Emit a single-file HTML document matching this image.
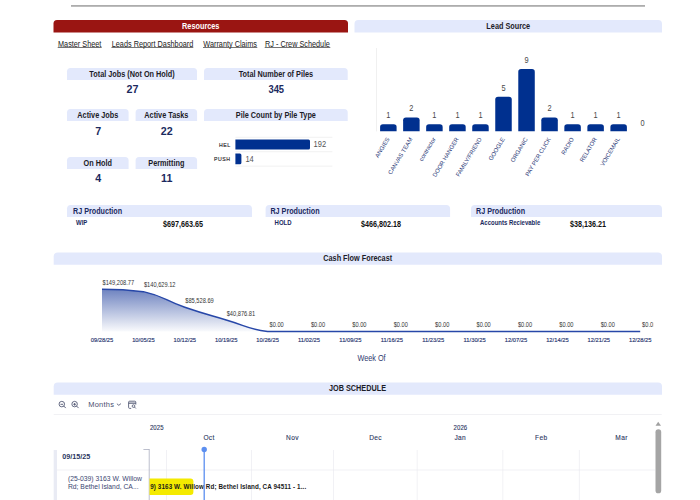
<!DOCTYPE html>
<html><head><meta charset="utf-8"><style>html,body{margin:0;padding:0;background:#fff;width:700px;height:500px;overflow:hidden}svg{display:block}</style></head>
<body><svg width="700" height="500" viewBox="0 0 700 500" font-family='"Liberation Sans", sans-serif'><rect x="71" y="5" width="574" height="1.8" fill="#adadad"/>
<path d="M53.5,32.5 L53.5,23.5 Q53.5,20 57.0,20 L344.5,20 Q348.0,20 348.0,23.5 L348.0,32.5 Z" fill="#9a1512"/>
<text transform="translate(200.75,28.6) scale(0.8547,1)" font-size="8.541" fill="#ffffff" font-weight="bold" text-anchor="middle" >Resources</text>
<path d="M354.5,32.5 L354.5,23.8 Q354.5,20 358.3,20 L658.2,20 Q662.0,20 662.0,23.8 L662.0,32.5 Z" fill="#e3e9fc"/>
<text transform="translate(508.25,28.6) scale(0.8547,1)" font-size="8.541" fill="#1c1c28" font-weight="bold" text-anchor="middle" >Lead Source</text>
<text transform="translate(58,46.5) scale(0.8547,1)" font-size="8.541" fill="#222" font-weight="normal" text-anchor="start" >Master Sheet</text>
<rect x="57.7" y="47.05" width="44.00" height="0.7" fill="#3a3a3a"/>
<text transform="translate(111.75,46.5) scale(0.8547,1)" font-size="8.541" fill="#222" font-weight="normal" text-anchor="start" >Leads Report Dashboard</text>
<rect x="111.45" y="47.05" width="81.85" height="0.7" fill="#3a3a3a"/>
<text transform="translate(203.3,46.5) scale(0.8547,1)" font-size="8.541" fill="#222" font-weight="normal" text-anchor="start" >Warranty Claims</text>
<rect x="203.0" y="47.05" width="54.30" height="0.7" fill="#3a3a3a"/>
<text transform="translate(265,46.5) scale(0.8547,1)" font-size="8.541" fill="#222" font-weight="normal" text-anchor="start" >RJ - Crew Schedule</text>
<rect x="264.7" y="47.05" width="65.60" height="0.7" fill="#3a3a3a"/>
<path d="M67,80 L67,71.5 Q67,68 70.5,68 L193.5,68 Q197,68 197,71.5 L197,80 Z" fill="#e3e9fc"/>
<text transform="translate(132.0,76.6) scale(0.8547,1)" font-size="8.541" fill="#1c1c28" font-weight="bold" text-anchor="middle" >Total Jobs (Not On Hold)</text>
<text transform="translate(132.4,93.2) scale(0.9091,1)" font-size="11.770" fill="#1b2a5e" font-weight="bold" text-anchor="middle" >27</text>
<path d="M204,80 L204,71.5 Q204,68 207.5,68 L344.2,68 Q347.7,68 347.7,71.5 L347.7,80 Z" fill="#e3e9fc"/>
<text transform="translate(275.85,76.6) scale(0.8547,1)" font-size="8.541" fill="#1c1c28" font-weight="bold" text-anchor="middle" >Total Number of Piles</text>
<text transform="translate(276.25,92.55) scale(0.9091,1)" font-size="10.340" fill="#1b2a5e" font-weight="bold" text-anchor="middle" >345</text>
<path d="M67,121 L67,112.5 Q67,109 70.5,109 L125.1,109 Q128.6,109 128.6,112.5 L128.6,121 Z" fill="#e3e9fc"/>
<text transform="translate(97.8,117.6) scale(0.8547,1)" font-size="8.541" fill="#1c1c28" font-weight="bold" text-anchor="middle" >Active Jobs</text>
<text transform="translate(98.2,134.8) scale(0.9091,1)" font-size="11.770" fill="#1b2a5e" font-weight="bold" text-anchor="middle" >7</text>
<path d="M135.6,121 L135.6,112.5 Q135.6,109 139.1,109 L193.6,109 Q197.1,109 197.1,112.5 L197.1,121 Z" fill="#e3e9fc"/>
<text transform="translate(166.35,117.6) scale(0.8547,1)" font-size="8.541" fill="#1c1c28" font-weight="bold" text-anchor="middle" >Active Tasks</text>
<text transform="translate(166.75,134.8) scale(0.9091,1)" font-size="11.770" fill="#1b2a5e" font-weight="bold" text-anchor="middle" >22</text>
<path d="M67,169 L67,160.5 Q67,157 70.5,157 L125.1,157 Q128.6,157 128.6,160.5 L128.6,169 Z" fill="#e3e9fc"/>
<text transform="translate(97.8,165.6) scale(0.8547,1)" font-size="8.541" fill="#1c1c28" font-weight="bold" text-anchor="middle" >On Hold</text>
<text transform="translate(98.2,182.2) scale(0.9091,1)" font-size="11.770" fill="#1b2a5e" font-weight="bold" text-anchor="middle" >4</text>
<path d="M135.6,169 L135.6,160.5 Q135.6,157 139.1,157 L193.6,157 Q197.1,157 197.1,160.5 L197.1,169 Z" fill="#e3e9fc"/>
<text transform="translate(166.35,165.6) scale(0.8547,1)" font-size="8.541" fill="#1c1c28" font-weight="bold" text-anchor="middle" >Permitting</text>
<text transform="translate(166.75,182.2) scale(0.9091,1)" font-size="11.770" fill="#1b2a5e" font-weight="bold" text-anchor="middle" >11</text>
<path d="M204,121 L204,112.5 Q204,109 207.5,109 L344.2,109 Q347.7,109 347.7,112.5 L347.7,121 Z" fill="#e3e9fc"/>
<text transform="translate(275.85,117.6) scale(0.8547,1)" font-size="8.541" fill="#1c1c28" font-weight="bold" text-anchor="middle" >Pile Count by Pile Type</text>
<rect x="235.4" y="136.85" width="97" height="0.7" fill="#ececec"/>
<rect x="235.4" y="151.45000000000002" width="97" height="0.7" fill="#ececec"/>
<rect x="235.4" y="165.75" width="97" height="0.7" fill="#ececec"/>
<path d="M235.4,139.4 L308.5,139.4 Q310.0,139.4 310.0,140.9 L310.0,148.1 Q310.0,149.6 308.5,149.6 L235.4,149.6 Z" fill="#00308f"/>
<path d="M235.4,153.5 L239.9,153.5 Q241.4,153.5 241.4,155.0 L241.4,162.7 Q241.4,164.2 239.9,164.2 L235.4,164.2 Z" fill="#00308f"/>
<text transform="translate(230.6,146.6) scale(0.9524,1)" font-size="5.460" fill="#3a3a3a" font-weight="normal" text-anchor="end" letter-spacing="0.55" stroke="#3a3a3a" stroke-width="0.2">HEL</text>
<text transform="translate(230.6,161.1) scale(0.9524,1)" font-size="5.460" fill="#3a3a3a" font-weight="normal" text-anchor="end" letter-spacing="0.55" stroke="#3a3a3a" stroke-width="0.2">PUSH</text>
<text transform="translate(313.6,147) scale(0.8547,1)" font-size="8.775" fill="#555" font-weight="normal" text-anchor="start" >192</text>
<text transform="translate(245.4,161.5) scale(0.8547,1)" font-size="8.775" fill="#555" font-weight="normal" text-anchor="start" >14</text>
<rect x="376.2" y="48" width="0.6" height="83.4" fill="#e6e6e6"/>
<path d="M380.1,131.2 L380.1,127.09999999999998 Q380.1,124.29999999999998 382.90000000000003,124.29999999999998 L393.8,124.29999999999998 Q396.6,124.29999999999998 396.6,127.09999999999998 L396.6,131.2 Z" fill="#00308f"/>
<text transform="translate(388.35,118.3) scale(0.8929,1)" font-size="8.288" fill="#484848" font-weight="normal" text-anchor="middle" >1</text>
<text x="0" y="0" font-size="5.95" fill="#2b3a78" text-anchor="end" transform="translate(388.15,138) rotate(-59) translate(0,2)">ANGIES</text>
<path d="M403.13,131.2 L403.13,120.19999999999999 Q403.13,117.39999999999999 405.93,117.39999999999999 L416.83,117.39999999999999 Q419.63,117.39999999999999 419.63,120.19999999999999 L419.63,131.2 Z" fill="#00308f"/>
<text transform="translate(411.38,111.4) scale(0.8929,1)" font-size="8.288" fill="#484848" font-weight="normal" text-anchor="middle" >2</text>
<text x="0" y="0" font-size="5.95" fill="#2b3a78" text-anchor="end" transform="translate(411.18,138) rotate(-59) translate(0,2)">CANVAS TEAM</text>
<path d="M426.16,131.2 L426.16,127.09999999999998 Q426.16,124.29999999999998 428.96000000000004,124.29999999999998 L439.86,124.29999999999998 Q442.66,124.29999999999998 442.66,127.09999999999998 L442.66,131.2 Z" fill="#00308f"/>
<text transform="translate(434.41,118.3) scale(0.8929,1)" font-size="8.288" fill="#484848" font-weight="normal" text-anchor="middle" >1</text>
<text x="0" y="0" font-size="5.95" fill="#2b3a78" text-anchor="end" transform="translate(434.21,138) rotate(-59) translate(0,2)">contractor</text>
<path d="M449.19000000000005,131.2 L449.19000000000005,127.09999999999998 Q449.19000000000005,124.29999999999998 451.99000000000007,124.29999999999998 L462.89000000000004,124.29999999999998 Q465.69000000000005,124.29999999999998 465.69000000000005,127.09999999999998 L465.69000000000005,131.2 Z" fill="#00308f"/>
<text transform="translate(457.44,118.3) scale(0.8929,1)" font-size="8.288" fill="#484848" font-weight="normal" text-anchor="middle" >1</text>
<text x="0" y="0" font-size="5.95" fill="#2b3a78" text-anchor="end" transform="translate(457.24,138) rotate(-59) translate(0,2)">DOOR HANGER</text>
<path d="M472.22,131.2 L472.22,127.09999999999998 Q472.22,124.29999999999998 475.02000000000004,124.29999999999998 L485.92,124.29999999999998 Q488.72,124.29999999999998 488.72,127.09999999999998 L488.72,131.2 Z" fill="#00308f"/>
<text transform="translate(480.47,118.3) scale(0.8929,1)" font-size="8.288" fill="#484848" font-weight="normal" text-anchor="middle" >1</text>
<text x="0" y="0" font-size="5.95" fill="#2b3a78" text-anchor="end" transform="translate(480.27,138) rotate(-59) translate(0,2)">FAMILY/FRIEND</text>
<path d="M495.25,131.2 L495.25,99.49999999999999 Q495.25,96.69999999999999 498.05,96.69999999999999 L508.95,96.69999999999999 Q511.75,96.69999999999999 511.75,99.49999999999999 L511.75,131.2 Z" fill="#00308f"/>
<text transform="translate(503.5,90.7) scale(0.8929,1)" font-size="8.288" fill="#484848" font-weight="normal" text-anchor="middle" >5</text>
<text x="0" y="0" font-size="5.95" fill="#2b3a78" text-anchor="end" transform="translate(503.30,138) rotate(-59) translate(0,2)">GOOGLE</text>
<path d="M518.28,131.2 L518.28,71.89999999999999 Q518.28,69.1 521.0799999999999,69.1 L531.98,69.1 Q534.78,69.1 534.78,71.89999999999999 L534.78,131.2 Z" fill="#00308f"/>
<text transform="translate(526.53,63.1) scale(0.8929,1)" font-size="8.288" fill="#484848" font-weight="normal" text-anchor="middle" >9</text>
<text x="0" y="0" font-size="5.95" fill="#2b3a78" text-anchor="end" transform="translate(526.33,138) rotate(-59) translate(0,2)">ORGANIC</text>
<path d="M541.3100000000001,131.2 L541.3100000000001,120.19999999999999 Q541.3100000000001,117.39999999999999 544.11,117.39999999999999 L555.0100000000001,117.39999999999999 Q557.8100000000001,117.39999999999999 557.8100000000001,120.19999999999999 L557.8100000000001,131.2 Z" fill="#00308f"/>
<text transform="translate(549.56,111.4) scale(0.8929,1)" font-size="8.288" fill="#484848" font-weight="normal" text-anchor="middle" >2</text>
<text x="0" y="0" font-size="5.95" fill="#2b3a78" text-anchor="end" transform="translate(549.36,138) rotate(-59) translate(0,2)">PAY PER CLICK</text>
<path d="M564.34,131.2 L564.34,127.09999999999998 Q564.34,124.29999999999998 567.14,124.29999999999998 L578.0400000000001,124.29999999999998 Q580.84,124.29999999999998 580.84,127.09999999999998 L580.84,131.2 Z" fill="#00308f"/>
<text transform="translate(572.59,118.3) scale(0.8929,1)" font-size="8.288" fill="#484848" font-weight="normal" text-anchor="middle" >1</text>
<text x="0" y="0" font-size="5.95" fill="#2b3a78" text-anchor="end" transform="translate(572.39,138) rotate(-59) translate(0,2)">RADIO</text>
<path d="M587.37,131.2 L587.37,127.09999999999998 Q587.37,124.29999999999998 590.17,124.29999999999998 L601.07,124.29999999999998 Q603.87,124.29999999999998 603.87,127.09999999999998 L603.87,131.2 Z" fill="#00308f"/>
<text transform="translate(595.62,118.3) scale(0.8929,1)" font-size="8.288" fill="#484848" font-weight="normal" text-anchor="middle" >1</text>
<text x="0" y="0" font-size="5.95" fill="#2b3a78" text-anchor="end" transform="translate(595.42,138) rotate(-59) translate(0,2)">RELATOR</text>
<path d="M610.4000000000001,131.2 L610.4000000000001,127.09999999999998 Q610.4000000000001,124.29999999999998 613.2,124.29999999999998 L624.1000000000001,124.29999999999998 Q626.9000000000001,124.29999999999998 626.9000000000001,127.09999999999998 L626.9000000000001,131.2 Z" fill="#00308f"/>
<text transform="translate(618.65,118.3) scale(0.8929,1)" font-size="8.288" fill="#484848" font-weight="normal" text-anchor="middle" >1</text>
<text x="0" y="0" font-size="5.95" fill="#2b3a78" text-anchor="end" transform="translate(618.45,138) rotate(-59) translate(0,2)">VOICEMAIL</text>
<text transform="translate(642.68,125.8) scale(0.8929,1)" font-size="8.288" fill="#484848" font-weight="normal" text-anchor="middle" >0</text>
<path d="M67,217 L67,208.8 Q67,205 70.8,205 L248.2,205 Q252,205 252,208.8 L252,217 Z" fill="#e3e9fc"/>
<text transform="translate(73,213.6) scale(0.8547,1)" font-size="8.424" fill="#1b2a5e" font-weight="bold" text-anchor="start" >RJ Production</text>
<text transform="translate(76,225.3) scale(0.8547,1)" font-size="7.020" fill="#1b2a5e" font-weight="bold" text-anchor="start" >WIP</text>
<text transform="translate(163,226.5) scale(0.8547,1)" font-size="8.424" fill="#111" font-weight="bold" text-anchor="start" >$697,663.65</text>
<path d="M265.6,217 L265.6,208.8 Q265.6,205 269.40000000000003,205 L446.3,205 Q450.1,205 450.1,208.8 L450.1,217 Z" fill="#e3e9fc"/>
<text transform="translate(270.4,213.6) scale(0.8547,1)" font-size="8.424" fill="#1b2a5e" font-weight="bold" text-anchor="start" >RJ Production</text>
<text transform="translate(274.6,225.3) scale(0.8547,1)" font-size="7.020" fill="#1b2a5e" font-weight="bold" text-anchor="start" >HOLD</text>
<text transform="translate(361,226.5) scale(0.8547,1)" font-size="8.424" fill="#111" font-weight="bold" text-anchor="start" >$466,802.18</text>
<path d="M471,217 L471,208.8 Q471,205 474.8,205 L658.2,205 Q662,205 662,208.8 L662,217 Z" fill="#e3e9fc"/>
<text transform="translate(476,213.6) scale(0.8547,1)" font-size="8.424" fill="#1b2a5e" font-weight="bold" text-anchor="start" >RJ Production</text>
<text transform="translate(480,225.3) scale(0.8547,1)" font-size="7.020" fill="#1b2a5e" font-weight="bold" text-anchor="start" >Accounts Recievable</text>
<text transform="translate(570,226.5) scale(0.8547,1)" font-size="8.424" fill="#111" font-weight="bold" text-anchor="start" >$38,136.21</text>
<path d="M53.7,264.8 L53.7,256.5 Q53.7,252.5 57.7,252.5 L658.0,252.5 Q662.0,252.5 662.0,256.5 L662.0,264.8 Z" fill="#e3e9fc"/>
<text transform="translate(357.7,261) scale(0.8547,1)" font-size="8.541" fill="#1c1c28" font-weight="bold" text-anchor="middle" >Cash Flow Forecast</text>
<defs><linearGradient id="ag" x1="0" y1="0" x2="0" y2="1"><stop offset="0" stop-color="#4a64b0" stop-opacity="0.8"/><stop offset="1" stop-color="#4a64b0" stop-opacity="0.03"/></linearGradient><clipPath id="clipc"><rect x="0" y="0" width="653.3" height="500"/></clipPath></defs>
<path d="M102.00,289.20 C102.00,289.20 123.37,289.20 143.40,291.64 C164.77,296.31 163.87,300.13 184.80,307.30 C205.27,314.30 205.43,313.89 226.20,319.98 C246.83,326.04 246.51,328.64 267.60,331.60 C287.91,331.60 288.30,331.60 309.00,331.60 C329.70,331.60 329.70,331.60 350.40,331.60 C371.10,331.60 371.10,331.60 391.80,331.60 C412.50,331.60 412.50,331.60 433.20,331.60 C453.90,331.60 453.90,331.60 474.60,331.60 C495.30,331.60 495.30,331.60 516.00,331.60 C536.70,331.60 536.70,331.60 557.40,331.60 C578.10,331.60 578.10,331.60 598.80,331.60 C619.50,331.60 640.20,331.60 640.20,331.60 L640.20,331.6 L102.00,331.6 Z" fill="url(#ag)"/>
<path d="M102.00,289.20 C102.00,289.20 123.37,289.20 143.40,291.64 C164.77,296.31 163.87,300.13 184.80,307.30 C205.27,314.30 205.43,313.89 226.20,319.98 C246.83,326.04 246.51,328.64 267.60,331.60 C287.91,331.60 288.30,331.60 309.00,331.60 C329.70,331.60 329.70,331.60 350.40,331.60 C371.10,331.60 371.10,331.60 391.80,331.60 C412.50,331.60 412.50,331.60 433.20,331.60 C453.90,331.60 453.90,331.60 474.60,331.60 C495.30,331.60 495.30,331.60 516.00,331.60 C536.70,331.60 536.70,331.60 557.40,331.60 C578.10,331.60 578.10,331.60 598.80,331.60 C619.50,331.60 640.20,331.60 640.20,331.60" fill="none" stroke="#2747a8" stroke-width="1.5"/>
<g clip-path="url(#clipc)">
<text transform="translate(102.5,284.8) scale(0.8547,1)" font-size="6.669" fill="#333" font-weight="normal" text-anchor="start" >$149,208.77</text>
<text transform="translate(143.9,287.24) scale(0.8547,1)" font-size="6.669" fill="#333" font-weight="normal" text-anchor="start" >$140,629.12</text>
<text transform="translate(185.3,302.9) scale(0.8547,1)" font-size="6.669" fill="#333" font-weight="normal" text-anchor="start" >$85,528.69</text>
<text transform="translate(226.7,315.58) scale(0.8547,1)" font-size="6.669" fill="#333" font-weight="normal" text-anchor="start" >$40,876.81</text>
<text transform="translate(269.5,327.2) scale(0.8547,1)" font-size="6.669" fill="#333" font-weight="normal" text-anchor="start" >$0.00</text>
<text transform="translate(310.9,327.2) scale(0.8547,1)" font-size="6.669" fill="#333" font-weight="normal" text-anchor="start" >$0.00</text>
<text transform="translate(352.3,327.2) scale(0.8547,1)" font-size="6.669" fill="#333" font-weight="normal" text-anchor="start" >$0.00</text>
<text transform="translate(393.7,327.2) scale(0.8547,1)" font-size="6.669" fill="#333" font-weight="normal" text-anchor="start" >$0.00</text>
<text transform="translate(435.1,327.2) scale(0.8547,1)" font-size="6.669" fill="#333" font-weight="normal" text-anchor="start" >$0.00</text>
<text transform="translate(476.5,327.2) scale(0.8547,1)" font-size="6.669" fill="#333" font-weight="normal" text-anchor="start" >$0.00</text>
<text transform="translate(517.9,327.2) scale(0.8547,1)" font-size="6.669" fill="#333" font-weight="normal" text-anchor="start" >$0.00</text>
<text transform="translate(559.3,327.2) scale(0.8547,1)" font-size="6.669" fill="#333" font-weight="normal" text-anchor="start" >$0.00</text>
<text transform="translate(600.7,327.2) scale(0.8547,1)" font-size="6.669" fill="#333" font-weight="normal" text-anchor="start" >$0.00</text>
<text transform="translate(642.1,327.2) scale(0.8547,1)" font-size="6.669" fill="#333" font-weight="normal" text-anchor="start" >$0.00</text>
</g>
<text transform="translate(102.0,342.2) scale(0.9346,1)" font-size="6.206" fill="#26336e" font-weight="normal" text-anchor="middle" stroke="#26336e" stroke-width="0.15">09/28/25</text>
<text transform="translate(143.4,342.2) scale(0.9346,1)" font-size="6.206" fill="#26336e" font-weight="normal" text-anchor="middle" stroke="#26336e" stroke-width="0.15">10/05/25</text>
<text transform="translate(184.8,342.2) scale(0.9346,1)" font-size="6.206" fill="#26336e" font-weight="normal" text-anchor="middle" stroke="#26336e" stroke-width="0.15">10/12/25</text>
<text transform="translate(226.2,342.2) scale(0.9346,1)" font-size="6.206" fill="#26336e" font-weight="normal" text-anchor="middle" stroke="#26336e" stroke-width="0.15">10/19/25</text>
<text transform="translate(267.6,342.2) scale(0.9346,1)" font-size="6.206" fill="#26336e" font-weight="normal" text-anchor="middle" stroke="#26336e" stroke-width="0.15">10/26/25</text>
<text transform="translate(309.0,342.2) scale(0.9346,1)" font-size="6.206" fill="#26336e" font-weight="normal" text-anchor="middle" stroke="#26336e" stroke-width="0.15">11/02/25</text>
<text transform="translate(350.4,342.2) scale(0.9346,1)" font-size="6.206" fill="#26336e" font-weight="normal" text-anchor="middle" stroke="#26336e" stroke-width="0.15">11/09/25</text>
<text transform="translate(391.8,342.2) scale(0.9346,1)" font-size="6.206" fill="#26336e" font-weight="normal" text-anchor="middle" stroke="#26336e" stroke-width="0.15">11/16/25</text>
<text transform="translate(433.2,342.2) scale(0.9346,1)" font-size="6.206" fill="#26336e" font-weight="normal" text-anchor="middle" stroke="#26336e" stroke-width="0.15">11/23/25</text>
<text transform="translate(474.6,342.2) scale(0.9346,1)" font-size="6.206" fill="#26336e" font-weight="normal" text-anchor="middle" stroke="#26336e" stroke-width="0.15">11/30/25</text>
<text transform="translate(516.0,342.2) scale(0.9346,1)" font-size="6.206" fill="#26336e" font-weight="normal" text-anchor="middle" stroke="#26336e" stroke-width="0.15">12/07/25</text>
<text transform="translate(557.4,342.2) scale(0.9346,1)" font-size="6.206" fill="#26336e" font-weight="normal" text-anchor="middle" stroke="#26336e" stroke-width="0.15">12/14/25</text>
<text transform="translate(598.8,342.2) scale(0.9346,1)" font-size="6.206" fill="#26336e" font-weight="normal" text-anchor="middle" stroke="#26336e" stroke-width="0.15">12/21/25</text>
<text transform="translate(640.2,342.2) scale(0.9346,1)" font-size="6.206" fill="#26336e" font-weight="normal" text-anchor="middle" stroke="#26336e" stroke-width="0.15">12/28/25</text>
<text transform="translate(371.5,360.6) scale(0.8547,1)" font-size="8.541" fill="#2f3b70" font-weight="normal" text-anchor="middle" >Week Of</text>
<path d="M53.7,394.8 L53.7,386.5 Q53.7,382.5 57.7,382.5 L658.0,382.5 Q662.0,382.5 662.0,386.5 L662.0,394.8 Z" fill="#e3e9fc"/>
<text transform="translate(357.5,391.1) scale(0.8547,1)" font-size="8.541" fill="#1c1c28" font-weight="bold" text-anchor="middle" >JOB SCHEDULE</text>
<circle cx="61.8" cy="404.1" r="2.75" fill="none" stroke="#4e5470" stroke-width="0.85"/>
<line x1="63.8" y1="406.1" x2="65.5" y2="407.8" stroke="#4e5470" stroke-width="0.9" stroke-linecap="round"/>
<line x1="60.5" y1="404.3" x2="63.099999999999994" y2="404.3" stroke="#4e5470" stroke-width="0.9"/>
<circle cx="74.6" cy="404.1" r="2.75" fill="none" stroke="#4e5470" stroke-width="0.85"/>
<line x1="76.6" y1="406.1" x2="78.3" y2="407.8" stroke="#4e5470" stroke-width="0.9" stroke-linecap="round"/>
<line x1="73.3" y1="404.3" x2="75.89999999999999" y2="404.3" stroke="#4e5470" stroke-width="0.9"/>
<line x1="74.6" y1="403.0" x2="74.6" y2="405.6" stroke="#4e5470" stroke-width="0.9"/>
<text transform="translate(88.2,406.8) scale(0.9524,1)" font-size="7.875" fill="#4a5070" font-weight="normal" text-anchor="start" letter-spacing="0.25">Months</text>
<path d="M117.2,404.0 L118.8,405.3 L120.6,403.9" fill="none" stroke="#4e5470" stroke-width="0.85" stroke-linecap="round" stroke-linejoin="round"/>
<path d="M131.2,408.4 L129.6,408.4 Q128.6,408.4 128.6,407.4 L128.6,402.2 Q128.6,401.2 129.6,401.2 L134.8,401.2 Q135.8,401.2 135.8,402.2 L135.8,404.6" fill="none" stroke="#4e5470" stroke-width="0.85"/>
<rect x="128.6" y="402.6" width="7.2" height="1.1" fill="#4e5470"/>
<circle cx="133.5" cy="406.1" r="1.35" fill="none" stroke="#4e5470" stroke-width="0.8"/>
<line x1="134.5" y1="407.1" x2="135.6" y2="408.2" stroke="#4e5470" stroke-width="0.8" stroke-linecap="round"/>
<rect x="53.7" y="414" width="608" height="0.7" fill="#ebebf0"/>
<text transform="translate(156.8,430.2) scale(0.9524,1)" font-size="6.300" fill="#2a3560" font-weight="normal" text-anchor="middle" letter-spacing="0.1" stroke="#2a3560" stroke-width="0.1">2025</text>
<text transform="translate(460.4,430.2) scale(0.9524,1)" font-size="6.300" fill="#2a3560" font-weight="normal" text-anchor="middle" letter-spacing="0.1" stroke="#2a3560" stroke-width="0.1">2026</text>
<text transform="translate(209,440.3) scale(0.9524,1)" font-size="6.930" fill="#2a3560" font-weight="normal" text-anchor="middle" letter-spacing="0.35" stroke="#2a3560" stroke-width="0.1">Oct</text>
<text transform="translate(292.4,440.3) scale(0.9524,1)" font-size="6.930" fill="#2a3560" font-weight="normal" text-anchor="middle" letter-spacing="0.35" stroke="#2a3560" stroke-width="0.1">Nov</text>
<text transform="translate(375.5,440.3) scale(0.9524,1)" font-size="6.930" fill="#2a3560" font-weight="normal" text-anchor="middle" letter-spacing="0.35" stroke="#2a3560" stroke-width="0.1">Dec</text>
<text transform="translate(460.2,440.3) scale(0.9524,1)" font-size="6.930" fill="#2a3560" font-weight="normal" text-anchor="middle" letter-spacing="0.35" stroke="#2a3560" stroke-width="0.1">Jan</text>
<text transform="translate(541.2,440.3) scale(0.9524,1)" font-size="6.930" fill="#2a3560" font-weight="normal" text-anchor="middle" letter-spacing="0.35" stroke="#2a3560" stroke-width="0.1">Feb</text>
<text transform="translate(621.5,440.3) scale(0.9524,1)" font-size="6.930" fill="#2a3560" font-weight="normal" text-anchor="middle" letter-spacing="0.35" stroke="#2a3560" stroke-width="0.1">Mar</text>
<rect x="166.29999999999998" y="450" width="0.6" height="50" fill="#e8e8ee"/>
<rect x="251.1" y="450" width="0.6" height="50" fill="#e8e8ee"/>
<rect x="333.09999999999997" y="450" width="0.6" height="50" fill="#e8e8ee"/>
<rect x="416.8" y="450" width="0.6" height="50" fill="#e8e8ee"/>
<rect x="502.59999999999997" y="450" width="0.6" height="50" fill="#e8e8ee"/>
<rect x="578.9000000000001" y="450" width="0.6" height="50" fill="#e8e8ee"/>
<rect x="57" y="469.7" width="598" height="0.6" fill="#e8e8ee"/>
<rect x="53.7" y="450" width="3.3" height="50" fill="#e9ebf4"/>
<rect x="148.8" y="449" width="0.7" height="51" fill="#a0a4b8"/>
<rect x="143.4" y="449" width="5.8" height="0.7" fill="#a0a4b8"/>
<text transform="translate(62.3,459.1) scale(0.9804,1)" font-size="7.344" fill="#2a3560" font-weight="bold" text-anchor="start" >09/15/25</text>
<text transform="translate(67.9,481.4) scale(0.9524,1)" font-size="7.140" fill="#3a4570" font-weight="normal" text-anchor="start" >(25-039) 3163 W. Willow</text>
<text transform="translate(67.9,489.1) scale(0.9524,1)" font-size="7.140" fill="#3a4570" font-weight="normal" text-anchor="start" >Rd; Bethel Island, CA...</text>
<defs><clipPath id="clipt"><rect x="149.5" y="440" width="506" height="60"/></clipPath></defs>
<g clip-path="url(#clipt)">
<path d="M140,478.6 L190.4,478.6 Q193.4,478.6 193.4,481.6 L193.4,491.9 Q193.4,494.9 190.4,494.9 L140,494.9 Z" fill="#f4ea00"/>
<text transform="translate(150.2,489.4) scale(0.9709,1)" font-size="6.489" fill="#1a1a1a" font-weight="bold" text-anchor="start" letter-spacing="0.11">9) 3163 W. Willow Rd; Bethel Island, CA 94511 - 1...</text>
</g>
<rect x="203.55" y="449.4" width="1.3" height="51" fill="#5c8ff0"/>
<circle cx="204.2" cy="449.5" r="2.7" fill="#5c8ff0"/>
<path d="M655.5,425.8 L658.2,421.8 L661,425.8 Z" fill="#a0a0a0"/>
<rect x="655.5" y="429.3" width="5.7" height="64" rx="2.85" fill="#a5a5a5"/></svg></body></html>
